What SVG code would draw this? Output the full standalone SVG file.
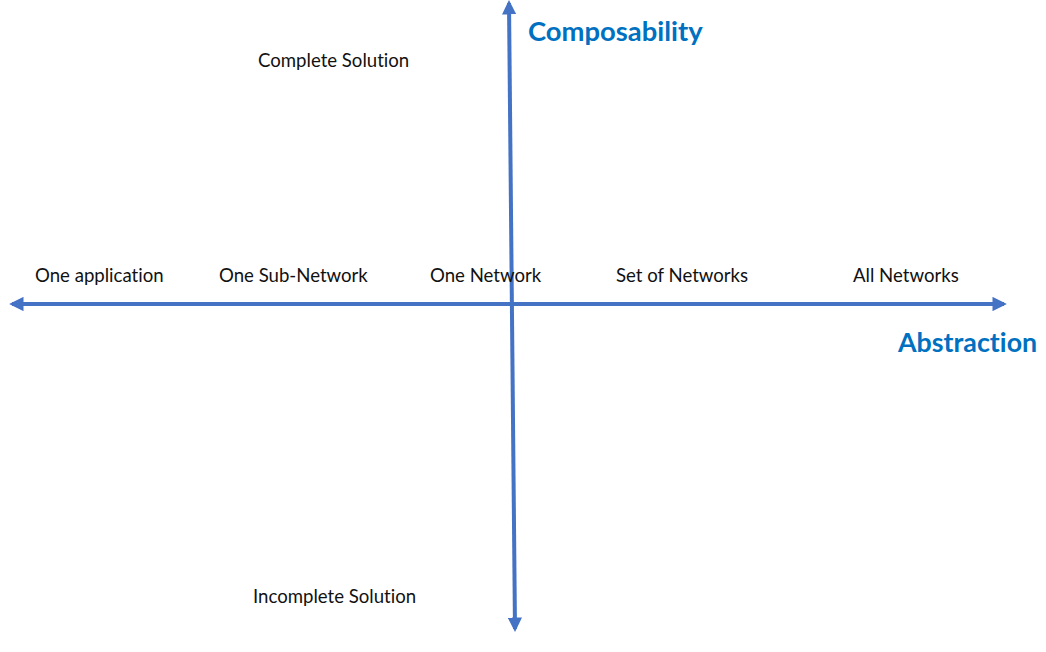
<svg xmlns="http://www.w3.org/2000/svg" width="1046" height="652" viewBox="0 0 1046 652">
<style>
.lbl{font-family:Lato,"Open Sans",sans-serif;font-size:18.6px;fill:#111;font-variant-ligatures:none;}
.ttl{font-family:Lato,"Open Sans",sans-serif;font-size:27.4px;font-weight:bold;fill:#0070C0;font-variant-ligatures:none;}
.ax{stroke:#4472C4;stroke-width:4;fill:none;}
</style>
<defs>
<marker id="ah" viewBox="0 0 10 10" refX="8" refY="5" markerWidth="3.6" markerHeight="3.6" orient="auto-start-reverse" markerUnits="strokeWidth">
<path d="M0,0 L10,5 L0,10 z" fill="#4472C4"/>
</marker>
</defs>
<rect width="1046" height="652" fill="#fff"/>
<g id="connectors">
<line class="ax" x1="12" y1="304" x2="1004" y2="304" marker-start="url(#ah)" marker-end="url(#ah)"/>
<line class="ax" x1="509" y1="3" x2="515" y2="629" marker-start="url(#ah)" marker-end="url(#ah)"/>
</g>
<g id="composability"><text class="ttl" x="528" y="41">Composability</text></g>
<g id="abstraction"><text class="ttl" x="898" y="352" style="font-size:26.8px">Abstraction</text></g>
<g id="complete"><text class="lbl" x="258" y="67">Complete Solution</text></g>
<g id="incomplete"><text class="lbl" x="253" y="603">Incomplete Solution</text></g>
<g id="one-application"><text class="lbl" x="35" y="282">One application</text></g>
<g id="one-sub-network"><text class="lbl" x="219" y="282">One Sub-Network</text></g>
<g id="one-network"><text class="lbl" x="430" y="282">One Network</text></g>
<g id="set-of-networks"><text class="lbl" x="616" y="282">Set of Networks</text></g>
<g id="all-networks"><text class="lbl" x="853" y="282">All Networks</text></g>
</svg>
